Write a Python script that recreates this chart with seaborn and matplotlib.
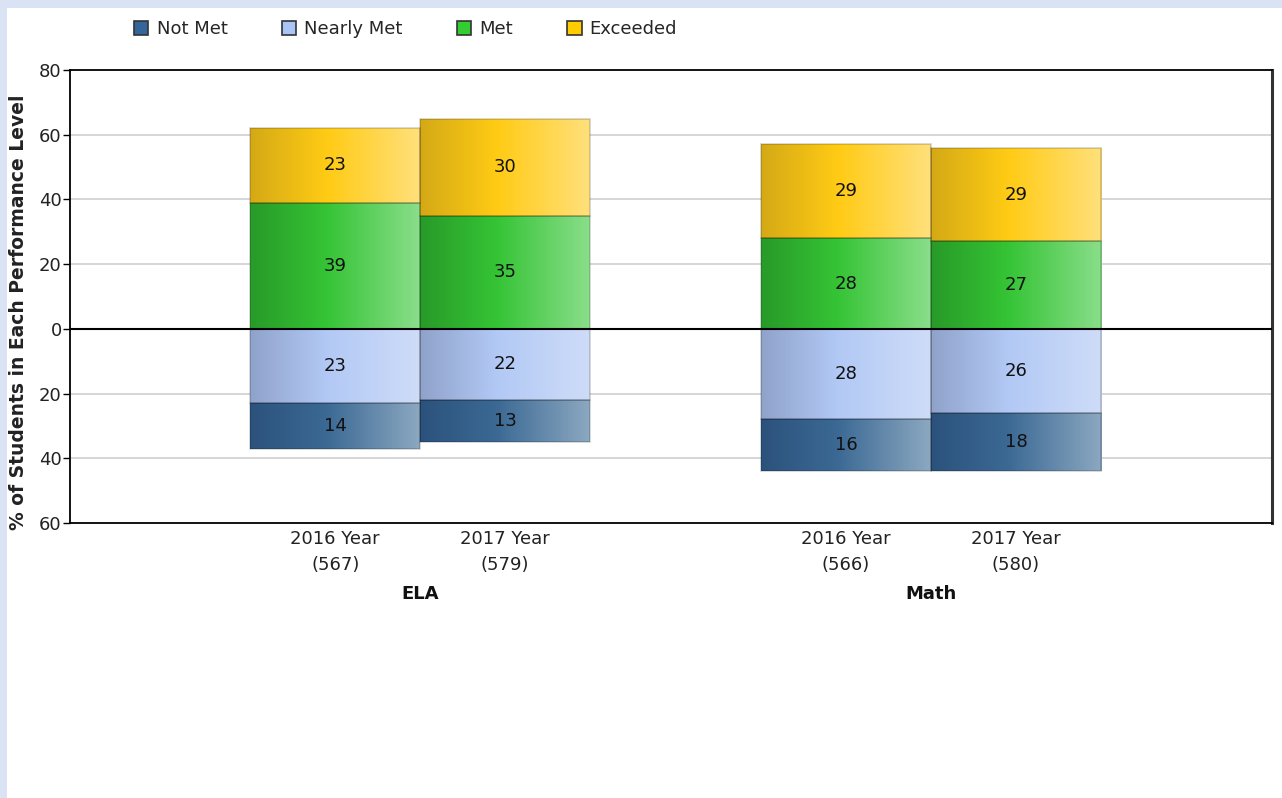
import numpy as np
import pandas as pd
import matplotlib
matplotlib.use("Agg")
import matplotlib.pyplot as plt
from matplotlib.patches import Rectangle, Patch
from matplotlib.colors import to_rgb
import matplotlib.transforms as mtransforms
import seaborn as sns

# ---- data ----
subjects = ["ELA", "ELA", "Math", "Math"]
years = ["2016 Year", "2017 Year", "2016 Year", "2017 Year"]
counts = [567, 579, 566, 580]
not_met = [14, 13, 16, 18]
nearly_met = [23, 22, 28, 26]
met = [39, 35, 28, 27]
exceeded = [23, 30, 29, 29]
levels = ["Not Met", "Nearly Met", "Met", "Exceeded"]
legend_colors = ["#336699", "#a9c4f5", "#33cc33", "#ffcc00"]
y_ticks = [80, 60, 40, 20, 0, -20, -40, -60]

# gradient stops (left, middle, right) per level
grad_stops = {
    "Not Met": ["#2b527c", "#3b6994", "#8ca8c1"],
    "Nearly Met": ["#8fa2ca", "#b2c9f5", "#cedcf8"],
    "Met": ["#289a28", "#35c435", "#8ade8a"],
    "Exceeded": ["#d4a916", "#ffcb14", "#ffe07c"],
}

sns.set_theme(style="white")
plt.rcParams["font.family"] = ["DejaVu Sans"]
FS = 13

W, H = 1282, 798
fig = plt.figure(figsize=(W / 100, H / 100), dpi=100)
fig.patch.set_facecolor("white")
band = "#dae3f3"
fig.patches.append(Rectangle((0, 1 - 8 / H), 1, 8 / H, transform=fig.transFigure,
                             facecolor=band, edgecolor="none", zorder=0))
fig.patches.append(Rectangle((0, 0), 7 / W, 1, transform=fig.transFigure,
                             facecolor=band, edgecolor="none", zorder=0))

ax = fig.add_axes([70 / W, (H - 523) / H, 1202 / W, 453 / H])

# layout of bar slots (1 unit per bar)
group_idx = pd.Series(subjects).astype("category").cat.codes.to_numpy()
within = np.array([0, 1, 0, 1])
positions = 1.56 + group_idx * 3.005 + within

df = pd.DataFrame({
    "pos": positions, "subject": subjects, "year": years, "n": counts,
    "Not Met": not_met, "Nearly Met": nearly_met, "Met": met, "Exceeded": exceeded,
})

layers = [
    ("Nearly Met", -df["Nearly Met"].to_numpy(), np.zeros(len(df))),
    ("Not Met", -df["Not Met"].to_numpy(), -df["Nearly Met"].to_numpy()),
    ("Met", df["Met"].to_numpy(), np.zeros(len(df))),
    ("Exceeded", df["Exceeded"].to_numpy(), df["Met"].to_numpy()),
]

for name, heights, bottoms in layers:
    n_before = len(ax.patches)
    sns.barplot(x=df["pos"].to_numpy(), y=heights, bottom=bottoms, native_scale=True,
                width=1.0, color=legend_colors[levels.index(name)], saturation=1,
                errorbar=None, linewidth=0, ax=ax, zorder=2)
    new_patches = ax.patches[n_before:]
    stops = [np.array(to_rgb(c)) for c in grad_stops[name]]
    t = np.linspace(0, 1, 256)
    grad = np.zeros((1, 256, 3))
    for i, tt in enumerate(t):
        if tt < 0.45:
            f = tt / 0.45
            grad[0, i] = stops[0] * (1 - f) + stops[1] * f
        else:
            f = (tt - 0.45) / 0.55
            grad[0, i] = stops[1] * (1 - f) + stops[2] * f
    for p in new_patches:
        x0, w = p.get_x(), p.get_width()
        y0, h = p.get_y(), p.get_height()
        ylo, yhi = min(y0, y0 + h), max(y0, y0 + h)
        im = ax.imshow(grad, extent=[x0, x0 + w, ylo, yhi], aspect="auto",
                       interpolation="bilinear", zorder=2.5)
        im.set_clip_path(p)
        ax.add_patch(Rectangle((x0, ylo), w, yhi - ylo, facecolor="none",
                               edgecolor=(0, 0, 0, 0.18), linewidth=1.2, zorder=3))
        val = abs(h)
        ax.text(x0 + w / 2, (ylo + yhi) / 2, f"{val:g}", ha="center", va="center",
                fontsize=FS, color="#111111", zorder=5)

ax.set_xlim(0, 1202 / 170)
ax.set_ylim(-60, 80)

# axes styling
ax.set_yticks(y_ticks)
ax.set_yticklabels([str(abs(v)) for v in y_ticks], fontsize=FS, color="#222222")
ax.tick_params(axis="y", direction="out", length=5, width=1, color="black", pad=1, left=True)
ax.set_xticks(positions)
ax.set_xticklabels([f"{y}\n({n})" for y, n in zip(years, counts)], fontsize=FS,
                   color="#222222", linespacing=1.6)
ax.tick_params(axis="x", length=0, pad=5)
ax.set_xlabel("")
ax.set_ylabel("")
for v in y_ticks:
    if v not in (0, 80, -60):
        ax.axhline(v, color="#cfcfcf", linewidth=1.2, zorder=1)
ax.axhline(0, color="black", linewidth=1.5, zorder=4)
for s in ax.spines.values():
    s.set_color("black")
    s.set_linewidth(1.3)
ax.spines["right"].set_linewidth(2.2)
ax.spines["right"].set_color("#333333")

# group labels
trans = mtransforms.blended_transform_factory(ax.transData, ax.transAxes)
for g in sorted(set(group_idx)):
    name = subjects[list(group_idx).index(g)]
    center = positions[group_idx == g].mean()
    ax.text(center, -0.157, name, transform=trans, ha="center", va="center",
            fontsize=FS, fontweight="bold", color="#111111")

fig.text(19 / W, (H - 312) / H, "% of Students in Each Performance Level", rotation=90,
         ha="center", va="center", fontsize=13.5, fontweight="bold", color="#222222")

handles = [Patch(facecolor=c, edgecolor="#333333", linewidth=1.2) for c in legend_colors]
fig.legend(handles, levels, loc="center left", bbox_to_anchor=(134 / W, (H - 29) / H),
           ncol=4, frameon=False, fontsize=FS, handlelength=0.8, handleheight=0.8,
           handletextpad=0.45, columnspacing=3.0, borderaxespad=0, borderpad=0)

fig.savefig("out.png", dpi=100, facecolor=fig.get_facecolor())
